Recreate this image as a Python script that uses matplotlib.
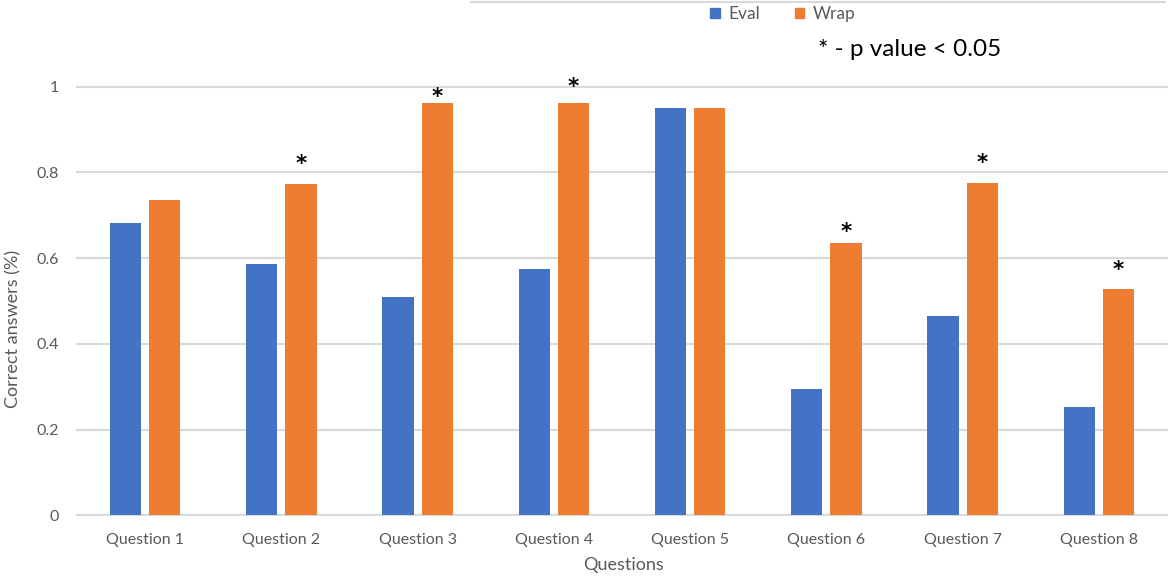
import matplotlib
matplotlib.use("Agg")
import matplotlib.pyplot as plt
import matplotlib.transforms as mtransforms
from matplotlib.patches import Patch
from matplotlib.lines import Line2D
import numpy as np

categories = ["Question 1", "Question 2", "Question 3", "Question 4",
              "Question 5", "Question 6", "Question 7", "Question 8"]
eval_vals = [0.683, 0.586, 0.510, 0.575, 0.950, 0.295, 0.466, 0.253]
wrap_vals = [0.735, 0.773, 0.961, 0.961, 0.950, 0.636, 0.775, 0.529]
# significance markers: category index and y position of the star
star_idx = [1, 2, 3, 5, 6, 7]
star_y = [0.834, 0.992, 1.015, 0.675, 0.836, 0.588]
yticks = [0, 0.2, 0.4, 0.6, 0.8, 1]
ytick_labels = ["0", "0.2", "0.4", "0.6", "0.8", "1"]

BLUE = "#4472C4"
ORANGE = "#ED7D31"
GRID = "#D9D9D9"
TXT = "#595959"

plt.rcParams["font.family"] = ["Lato", "DejaVu Sans"]

W, H = 1170, 576
fig = plt.figure(figsize=(W / 100, H / 100), dpi=100)
left, right, bottom, top = 77, 1167, 515.2, 86.7
ax = fig.add_axes([left / W, 1 - bottom / H, (right - left) / W, (bottom - top) / H])

x = np.arange(len(categories))
bw = 0.228
off = 0.144
ax.bar(x - off, eval_vals, bw, color=BLUE, zorder=3)
ax.bar(x + off, wrap_vals, bw, color=ORANGE, zorder=3)

star_tr = mtransforms.offset_copy(ax.transData, fig=fig, y=-9.0, units="points")
for i, sy in zip(star_idx, star_y):
    ax.text(i + off, sy, "*", ha="center", va="baseline", fontsize=15.5,
            family="DejaVu Sans", fontweight="bold", color="black",
            transform=star_tr, clip_on=False)

ax.set_xlim(-0.5, len(categories) - 0.5)
ax.set_ylim(0, 1)
ax.set_yticks(yticks)
ax.set_yticklabels(ytick_labels)
ax.set_xticks(x)
ax.set_xticklabels(categories)
ax.yaxis.grid(True, color=GRID, linewidth=1.5, zorder=0)
for g in ax.get_ygridlines():
    g.set_clip_on(False)
ax.set_axisbelow(True)
for s in ax.spines.values():
    s.set_visible(False)
ax.tick_params(axis="both", length=0, labelsize=11.5, colors=TXT)
ax.tick_params(axis="y", pad=13)
ax.tick_params(axis="x", pad=13)

ax.set_xlabel("Questions", fontsize=13, color=TXT)
ax.xaxis.set_label_coords((623 - left) / (right - left), -(565 - bottom) / (bottom - top))
ax.xaxis.label.set_va("center")
ax.set_ylabel("Correct answers (%)", fontsize=13, color=TXT)
ax.yaxis.set_label_coords(-(left - 13) / (right - left), (bottom - 329) / (bottom - top))
ax.yaxis.label.set_va("center")

handles = [Patch(facecolor=BLUE, edgecolor=BLUE), Patch(facecolor=ORANGE, edgecolor=ORANGE)]
fig.legend(handles, ["Eval", "Wrap"], loc="center", bbox_to_anchor=(783 / W, 1 - 14 / H),
           ncol=2, frameon=False, fontsize=12.5, labelcolor=TXT,
           handlelength=0.55, handleheight=0.55, handletextpad=0.5, columnspacing=2.0)

fig.text(910 / W, 1 - 49 / H, "* - p value < 0.05", ha="center", va="center",
         fontsize=17.5, color="black")

fig.add_artist(Line2D([471 / W, 1165 / W], [1 - 2 / H, 1 - 2 / H], color=GRID, linewidth=1.5))

fig.savefig("out.png", dpi=100)
